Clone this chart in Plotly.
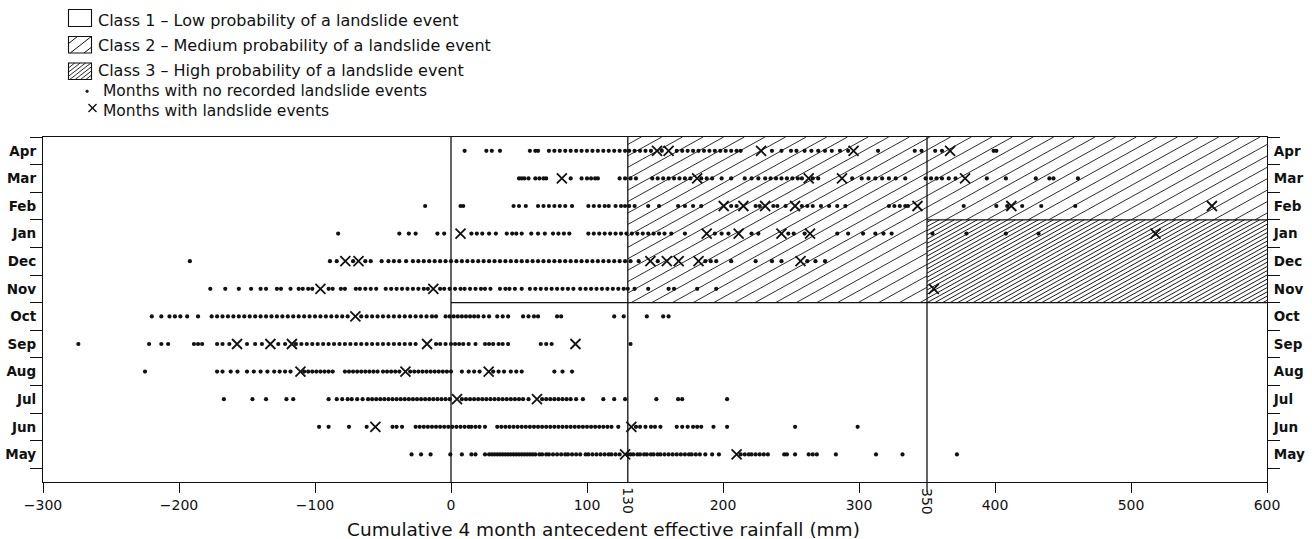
import math
import plotly.graph_objects as go

# ---------------- data ----------------
months = ["May", "Jun", "Jul", "Aug", "Sep", "Oct", "Nov", "Dec", "Jan", "Feb", "Mar", "Apr"]

may_dots = [-29, -22, -15, -0.5, 8, 15, 18, 25, 28, 30, 32, 34, 36, 38, 40, 42, 44, 46, 48, 50, 52, 54, 56, 58,
            60, 62, 65, 67, 70, 72, 75, 78, 81, 84, 86, 89, 92, 95, 99, 101, 104, 107, 110, 113, 116, 118, 121,
            124, 130, 132, 134, 137, 139, 142, 144, 147, 149, 152, 154, 157, 160, 163, 166, 169, 172, 175, 177,
            180, 183, 187, 192, 197, 213, 216, 219, 221, 224, 227, 230, 233, 245, 247, 253, 263, 266, 269, 283,
            312.5, 332, 372]
may_events = [128, 210]

jun_dots = [-97, -90, -75, -62, -43, -40, -36, -26, -23, -20, -17, -14, -11, -8, -5, -2, 1, 4, 7, 10, 13, 15, 18,
            21, 25, 34, 37, 40, 43, 46, 49, 52, 55, 58, 61, 64, 67, 70, 73, 76, 79, 82, 85, 88, 91, 94, 97, 100,
            103, 106, 109, 112, 115, 118, 123, 136, 139, 143, 147, 150, 154, 166, 170, 174, 178, 181, 184, 193,
            203, 253, 299]
jun_events = [-55.6, 132.6]

jul_dots = [-167, -146, -136, -121, -116, -90, -84, -80, -76, -73, -69, -65, -61, -58, -55, -52, -49, -46, -43,
            -40, -37, -34, -31, -28, -25, -22, -19, -16, -13, -10, -7, -4, -1, 8, 11, 14, 17, 20, 23, 26, 29, 32,
            35, 38, 41, 44, 47, 50, 53, 57, 67, 70, 73, 76, 79, 82, 85, 88, 92, 97, 112, 120, 128, 151, 167, 170,
            203]
jul_events = [4.4, 63.2]

aug_dots = [-225, -172, -168, -162, -157, -150, -145, -140, -135, -130, -126, -122, -118, -108, -105, -102, -99,
            -96, -93, -90, -87, -78, -75, -72, -69, -66, -63, -60, -57, -54, -50, -47, -44, -41, -38, -30, -27,
            -24, -21, -18, -15, -12, -9, -6, -3, 0, 8, 13, 17, 21, 31, 35, 39, 44, 48, 52, 76, 82, 89]
aug_events = [-110.7, -33.5, 27.7]

sep_dots = [-274, -222, -213, -208, -189, -186, -183, -172, -168, -163, -150, -144, -139, -127, -122, -114, -110,
            -106, -102, -98, -94, -90, -86, -82, -78, -74, -70, -66, -62, -58, -54, -50, -46, -42, -38, -34, -30,
            -26, -11, -8, -4, 0, 3, 6, 9, 13, 18, 25, 28, 31, 35, 38, 42, 66, 70, 74, 132]
sep_events = [-157.3, -132.8, -117, -17.6, 91.5]

oct_dots = [-220, -213, -207, -203, -199, -194, -186, -176, -172, -168, -164, -160, -156, -152, -148, -144, -140,
            -136, -132, -128, -124, -120, -116, -112, -108, -104, -100, -96, -92, -88, -84, -80, -76, -66, -62,
            -58, -54, -50, -46, -42, -38, -34, -30, -26, -22, -18, -14, -11, -4, -1, 2, 5, 8, 11, 14, 17, 20, 24,
            28, 34, 38, 42, 53, 57, 61, 64, 78, 81, 120, 127, 144, 156, 160]
oct_events = [-70.3]

nov_dots = [-177, -166, -156, -147, -140, -136, -128, -125, -118, -112, -109, -105, -102, -90, -87, -81, -78,
            -70, -67, -63, -59, -55, -48, -44, -40, -36, -32, -28, -24, -20, -17, -8, -5, -1, 3, 7, 10, 14, 18,
            22, 25, 29, 36, 40, 43, 47, 52, 58, 62, 66, 70, 74, 78, 82, 86, 90, 95, 99, 103, 107, 111, 115, 119,
            123, 127, 130, 135, 145, 160, 164, 181, 195]
nov_events = [-96, -13, 355]

dec_dots = [-192, -89, -84, -72, -63, -59, -51, -46, -42, -38, -33, -28, -24, -20, -16, -12, -8, -4, 0, 4, 8,
            12, 16, 20, 24, 28, 32, 36, 40, 44, 48, 52, 56, 60, 64, 68, 72, 76, 80, 84, 88, 92, 96, 100, 104, 108,
            112, 116, 120, 124, 128, 132, 138, 152, 187, 191, 195, 206, 224, 236, 243, 262, 268, 275]
dec_events = [-77.7, -68, 146.6, 158.7, 167.4, 182, 257]

jan_dots = [-83, -38, -31, -26, -10, -5, 15, 19, 23, 28, 33, 41, 45, 48, 52, 59, 64, 69, 75, 79, 83, 87, 101,
            105, 109, 113, 117, 121, 125, 129, 133, 137, 141, 145, 149, 153, 157, 162, 172, 194, 199, 204, 221,
            226, 248, 252, 260, 284, 292, 303, 312, 318, 324, 354, 379, 408, 432]
jan_events = [7, 188, 211.5, 243, 264, 518]

feb_dots = [-19, 7, 9, 46, 50, 55, 64, 68, 72, 76, 80, 84, 89, 101, 105, 109, 113, 116, 121, 125, 128, 131,
            135, 145, 153, 167, 172, 178, 184, 206, 210, 224, 227, 237, 240, 246, 258, 262, 266, 272, 278, 284,
            290, 322, 326, 330, 334, 336, 377, 401, 409, 420, 434, 459]
feb_events = [200.5, 215, 231, 253, 343, 412, 559.5]

mar_dots = [50, 52, 54, 57, 62, 65, 68, 70, 88, 96, 100, 103, 106, 108, 124, 128, 132, 136, 148, 152, 156, 160,
            164, 168, 172, 176, 184, 188, 192, 199, 206, 216, 221, 226, 231, 235, 239, 243, 247, 251, 255, 258,
            266, 270, 295, 302, 307, 312, 317, 322, 327, 334, 349, 353, 357, 361, 366, 371, 394, 408, 430, 440,
            443, 461]
mar_events = [81.5, 181, 263, 287.5, 378]

apr_dots = [10, 26, 30, 36, 58, 62, 64, 72, 76, 80, 84, 88, 92, 96, 100, 104, 108, 112, 116, 120, 124, 128, 131,
            135, 139, 143, 147, 155, 166, 170, 174, 178, 182, 186, 190, 194, 198, 202, 206, 210, 213, 236, 243,
            250, 254, 260, 265, 270, 275, 280, 286, 292, 314, 341, 346, 356, 361, 399, 401]
apr_events = [151.5, 160, 228, 296, 367]

dots_by_month = [may_dots, jun_dots, jul_dots, aug_dots, sep_dots, oct_dots,
                 nov_dots, dec_dots, jan_dots, feb_dots, mar_dots, apr_dots]
events_by_month = [may_events, jun_events, jul_events, aug_events, sep_events, oct_events,
                   nov_events, dec_events, jan_events, feb_events, mar_events, apr_events]

thresholds = [0, 130, 350]          # class limits (mm)
x_ticks = [-300, -200, -100, 0, 100, 200, 300, 400, 500, 600]

legend_texts = ["Class 1 \u2013 Low probability of a landslide event",
                "Class 2 \u2013 Medium probability of a landslide event",
                "Class 3 \u2013 High probability of a landslide event",
                "Months with no recorded landslide events",
                "Months with landslide events"]
x_title = "Cumulative 4 month antecedent effective rainfall (mm)"

# ---------------- geometry ----------------
FIG_W, FIG_H = 1312, 539
M_L, M_R, M_T, M_B = 43, 45, 137, 57
PW = FIG_W - M_L - M_R
PH = FIG_H - M_T - M_B
X_RANGE = [-300, 600]
Y_RANGE = [-1.0, 11.5]
SX = PW / (X_RANGE[1] - X_RANGE[0])
SY = PH / (Y_RANGE[1] - Y_RANGE[0])
FONT = "DejaVu Sans"
INK = "#111111"

i_nov = months.index("Nov")
i_jan = months.index("Jan")
i_apr = months.index("Apr")
y_low = i_nov - 0.5        # Oct / Nov boundary
y_mid = i_jan + 0.5        # Jan / Feb boundary
y_top = i_apr + 0.5


def hatch_px(X0, Y0, X1, Y1, angle_deg, spacing):
    """Segments (pixel space, y down) of lines rising to the right, clipped to rect."""
    t = math.tan(math.radians(angle_deg))
    dc = spacing / math.cos(math.radians(angle_deg))
    cs = [Y + t * X for X in (X0, X1) for Y in (Y0, Y1)]
    cmin, cmax = min(cs), max(cs)
    c = math.ceil(cmin / dc) * dc
    segs = []
    while c < cmax:
        Xa = max(X0, (c - Y1) / t)
        Xb = min(X1, (c - Y0) / t)
        if Xb - Xa > 0.3:
            segs.append((Xa, c - t * Xa, Xb, c - t * Xb))
        c += dc
    return segs


def data_hatch_path(x0, y0, x1, y1, angle_deg, spacing):
    X0 = (x0 - X_RANGE[0]) * SX
    X1 = (x1 - X_RANGE[0]) * SX
    Ya = (Y_RANGE[1] - y1) * SY
    Yb = (Y_RANGE[1] - y0) * SY
    parts = []
    for (xa, ya, xb, yb) in hatch_px(X0, Ya, X1, Yb, angle_deg, spacing):
        parts.append("M%.3f,%.4f L%.3f,%.4f" % (
            xa / SX + X_RANGE[0], Y_RANGE[1] - ya / SY,
            xb / SX + X_RANGE[0], Y_RANGE[1] - yb / SY))
    return " ".join(parts)


def pxp(px):  # absolute pixel x -> paper
    return (px - M_L) / PW


def pyp(py):  # absolute pixel y -> paper
    return (FIG_H - M_B - py) / PH


def paper_hatch_path(X0, Y0, X1, Y1, angle_deg, spacing):
    parts = []
    for (xa, ya, xb, yb) in hatch_px(X0, Y0, X1, Y1, angle_deg, spacing):
        parts.append("M%.5f,%.5f L%.5f,%.5f" % (pxp(xa), pyp(ya), pxp(xb), pyp(yb)))
    return " ".join(parts)


# ---------------- figure ----------------
fig = go.Figure()

shapes = []
C2_ANG, C2_SP = 29, 10.0
C3_ANG, C3_SP = 29, 3.7
shapes.append(dict(type="path", xref="x", yref="y", layer="below", line=dict(color="#222222", width=0.95),
                   path=data_hatch_path(thresholds[1], y_low, thresholds[2], y_top, C2_ANG, C2_SP)))
shapes.append(dict(type="path", xref="x", yref="y", layer="below", line=dict(color="#222222", width=0.95),
                   path=data_hatch_path(thresholds[2], y_mid, X_RANGE[1], y_top, C2_ANG, C2_SP)))
shapes.append(dict(type="path", xref="x", yref="y", layer="below", line=dict(color="#1a1a1a", width=1.0),
                   path=data_hatch_path(thresholds[2], y_low, X_RANGE[1], y_mid, C3_ANG, C3_SP)))

frame = dict(color=INK, width=1.3)
for xv in thresholds:
    shapes.append(dict(type="line", xref="x", yref="y", x0=xv, x1=xv, y0=Y_RANGE[0], y1=Y_RANGE[1],
                       line=frame, layer="below"))
shapes.append(dict(type="line", xref="x", yref="y", x0=thresholds[0], x1=X_RANGE[1], y0=y_low, y1=y_low,
                   line=frame, layer="below"))
shapes.append(dict(type="line", xref="x", yref="y", x0=thresholds[2], x1=X_RANGE[1], y0=y_mid, y1=y_mid,
                   line=frame, layer="below"))
shapes.append(dict(type="line", xref="x", yref="paper", x0=thresholds[2], x1=thresholds[2],
                   y0=0, y1=-10 / PH, line=frame))

# ---------------- legend (drawn) ----------------
BOX_X0, BOX_X1 = 68.5, 91.5
box_rows = [(9.5, 26.5), (36.5, 53.0), (63.0, 79.5)]
for k, (b0, b1) in enumerate(box_rows):
    shapes.append(dict(type="rect", xref="paper", yref="paper",
                       x0=pxp(BOX_X0), x1=pxp(BOX_X1), y0=pyp(b1), y1=pyp(b0),
                       line=dict(color=INK, width=1.1), fillcolor="white"))
    if k == 1:
        shapes.append(dict(type="path", xref="paper", yref="paper", line=dict(color=INK, width=1.0),
                           path=paper_hatch_path(BOX_X0, b0, BOX_X1, b1, 38, 8.5)))
    if k == 2:
        shapes.append(dict(type="path", xref="paper", yref="paper", line=dict(color=INK, width=0.9),
                           path=paper_hatch_path(BOX_X0, b0, BOX_X1, b1, 38, 3.3)))

# legend symbols: small dot and a cross
shapes.append(dict(type="circle", xref="paper", yref="paper",
                   x0=pxp(85.8), x1=pxp(88.4), y0=pyp(92.6), y1=pyp(90.0),
                   fillcolor=INK, line=dict(color=INK, width=0.5)))
shapes.append(dict(type="line", xref="paper", yref="paper",
                   x0=pxp(88.5), x1=pxp(96.5), y0=pyp(112), y1=pyp(104), line=dict(color=INK, width=1.4)))
shapes.append(dict(type="line", xref="paper", yref="paper",
                   x0=pxp(88.5), x1=pxp(96.5), y0=pyp(104), y1=pyp(112), line=dict(color=INK, width=1.4)))

annotations = []
text_rows = [20.5, 45.0, 70.5]
for k in range(3):
    annotations.append(dict(x=pxp(96), y=pyp(text_rows[k]), xref="paper", yref="paper",
                            text=legend_texts[k], showarrow=False, xanchor="left", yanchor="middle",
                            font=dict(family=FONT, size=16, color=INK)))
annotations.append(dict(x=pxp(101), y=pyp(100.5), xref="paper", yref="paper",
                        text=legend_texts[3] + "<br>" + legend_texts[4], align="left",
                        showarrow=False, xanchor="left", yanchor="middle",
                        font=dict(family=FONT, size=15.5, color=INK)))

for xv in thresholds[1:]:
    annotations.append(dict(x=xv, y=pyp(501), xref="x", yref="paper", text=str(xv), textangle=90,
                            showarrow=False, xanchor="center", yanchor="middle",
                            font=dict(family=FONT, size=14, color=INK)))
annotations.append(dict(x=pxp(603), y=pyp(529), xref="paper", yref="paper", text=x_title,
                        showarrow=False, xanchor="center", yanchor="middle",
                        font=dict(family=FONT, size=18.5, color=INK)))

# ---------------- data traces ----------------
dx, dy, ex, ey = [], [], [], []
for i, m in enumerate(months):
    dx += dots_by_month[i]
    dy += [i] * len(dots_by_month[i])
    ex += events_by_month[i]
    ey += [i] * len(events_by_month[i])

fig.add_trace(go.Scatter(x=dx, y=dy, mode="markers", name="Months with no recorded landslide events",
                         marker=dict(symbol="circle", size=4.2, color=INK, line=dict(width=0)),
                         showlegend=False, hoverinfo="x+y"))
fig.add_trace(go.Scatter(x=ex, y=ey, mode="markers", name="Months with landslide events",
                         marker=dict(symbol="x-thin-open", size=10, color=INK, line=dict(width=1.8, color=INK)),
                         showlegend=False, hoverinfo="x+y"))
fig.add_trace(go.Scatter(x=[None], y=[None], yaxis="y2", showlegend=False, hoverinfo="skip"))

half_ticks = [i - 0.5 for i in range(len(months) + 1)]
yaxis_common = dict(range=Y_RANGE, tickmode="array", tickvals=list(range(len(months))), ticktext=months,
                    ticks="outside", ticklen=0, tickcolor=INK, showgrid=False, zeroline=False,
                    showline=True, linecolor=INK, linewidth=1.3, automargin=False,
                    tickfont=dict(family=FONT, size=13.5, color=INK, weight="bold"),
                    minor=dict(tickmode="array", tickvals=half_ticks, ticks="outside", ticklen=12,
                               tickcolor=INK, tickwidth=1.2, showgrid=False))

fig.update_layout(
    width=FIG_W, height=FIG_H, autosize=False,
    margin=dict(l=M_L, r=M_R, t=M_T, b=M_B, pad=0, autoexpand=False),
    paper_bgcolor="white", plot_bgcolor="white",
    showlegend=False,
    xaxis=dict(range=X_RANGE, tickmode="array", tickvals=x_ticks,
               ticktext=[str(v).replace("-", "\u2212") for v in x_ticks],
               ticks="outside", ticklen=10, tickwidth=1.2, tickcolor=INK, ticklabelstandoff=0,
               showgrid=False, zeroline=False, showline=True, linecolor=INK, linewidth=1.3, mirror=True,
               automargin=False, tickfont=dict(family=FONT, size=14, color=INK)),
    yaxis=dict(**yaxis_common, side="left", ticklabelstandoff=3),
    yaxis2=dict(**yaxis_common, side="right", overlaying="y", ticklabelstandoff=3),
    shapes=shapes,
    annotations=annotations,
)

fig.write_html("out.html", config={"displayModeBar": False},
               post_script="document.body.style.margin='0px';document.body.style.overflow='hidden';")
